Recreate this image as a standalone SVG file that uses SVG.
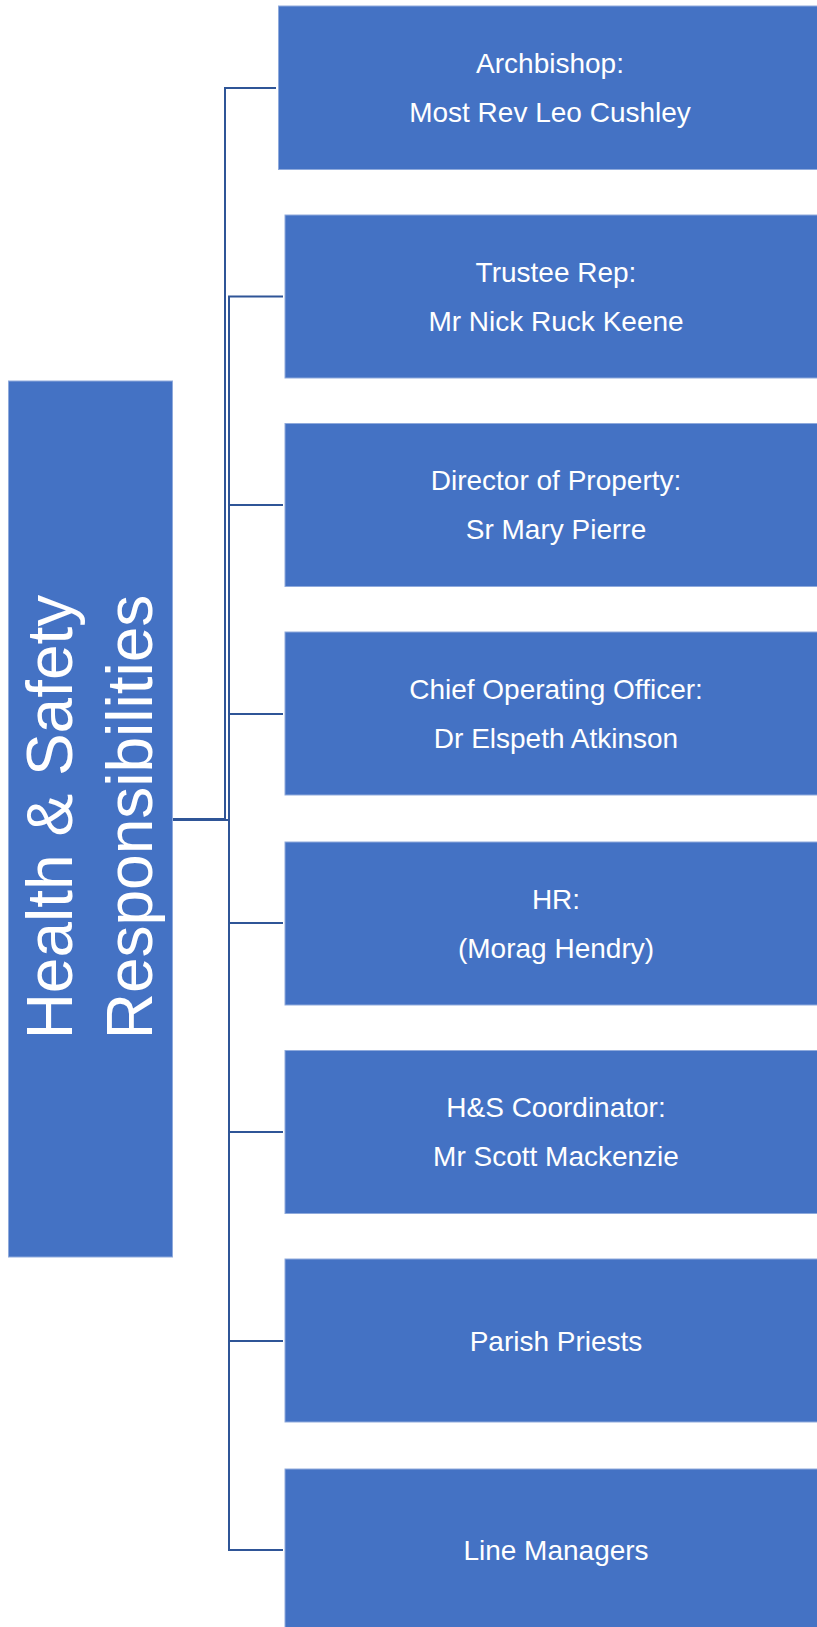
<svg xmlns="http://www.w3.org/2000/svg" width="817" height="1627" viewBox="0 0 817 1627">
<style>
.box{fill:#4472C4;stroke:#8FAADC;stroke-width:1}
.t{fill:#FFFFFF;font-family:"Liberation Sans",Arial,sans-serif;font-size:28px;text-anchor:middle}
.big{fill:#FFFFFF;font-family:"Liberation Sans",Arial,sans-serif;font-size:64px;text-anchor:middle}
.c{fill:none;stroke:#2F5597;stroke-width:2}
</style>
<rect width="817" height="1627" fill="#FFFFFF"/>
<g id="connectors">
<path class="c" d="M172.5 819 H225 V88 H276"/>
<path class="c" d="M172.5 820 H229 V296.5 H283"/>
<path class="c" d="M229 820 V1550 H283"/>
<path class="c" d="M229 505 H283 M229 714 H283 M229 923 H283 M229 1132 H283 M229 1341 H283"/>
</g>
<g id="root">
<rect class="box" x="8.5" y="381" width="164" height="876"/>
<text class="big" transform="translate(72,817) rotate(-90)">Health &amp; Safety</text>
<text class="big" transform="translate(152,817) rotate(-90)">Responsibilities</text>
</g>
<g id="archbishop">
<rect class="box" x="278.5" y="6" width="545" height="163.5"/>
<text class="t" x="550" y="73">Archbishop:</text>
<text class="t" x="550" y="122">Most Rev Leo Cushley</text>
</g>
<g id="trustee">
<rect class="box" x="285" y="215" width="545" height="163"/>
<text class="t" x="556" y="281.5">Trustee Rep:</text>
<text class="t" x="556" y="330.5">Mr Nick Ruck Keene</text>
</g>
<g id="property">
<rect class="box" x="285" y="423.5" width="545" height="163"/>
<text class="t" x="556" y="490">Director of Property:</text>
<text class="t" x="556" y="539">Sr Mary Pierre</text>
</g>
<g id="coo">
<rect class="box" x="285" y="632" width="545" height="163"/>
<text class="t" x="556" y="699">Chief Operating Officer:</text>
<text class="t" x="556" y="748">Dr Elspeth Atkinson</text>
</g>
<g id="hr">
<rect class="box" x="285" y="842" width="545" height="163"/>
<text class="t" x="556" y="908.5">HR:</text>
<text class="t" x="556" y="957.5">(Morag Hendry)</text>
</g>
<g id="hs">
<rect class="box" x="285" y="1050.5" width="545" height="163"/>
<text class="t" x="556" y="1117">H&amp;S Coordinator:</text>
<text class="t" x="556" y="1166">Mr Scott Mackenzie</text>
</g>
<g id="priests">
<rect class="box" x="285" y="1259" width="545" height="163"/>
<text class="t" x="556" y="1350.5">Parish Priests</text>
</g>
<g id="managers">
<rect class="box" x="285" y="1469" width="545" height="170"/>
<text class="t" x="556" y="1560">Line Managers</text>
</g>
</svg>
